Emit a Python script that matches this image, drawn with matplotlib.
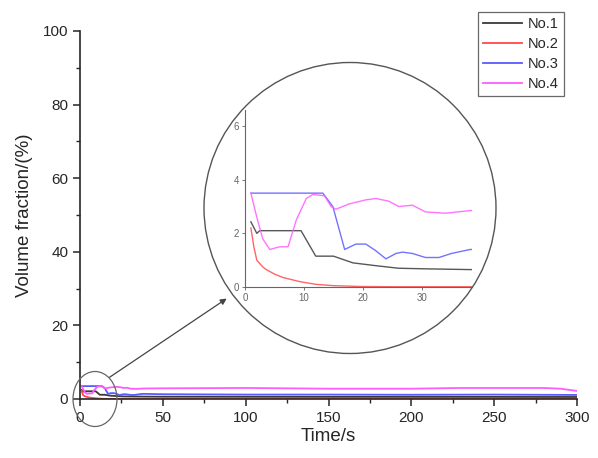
import matplotlib
matplotlib.use("Agg")
import matplotlib.pyplot as plt
from matplotlib.patches import Ellipse, FancyArrowPatch

plt.rcParams["font.family"] = ["Liberation Sans", "DejaVu Sans"]

# --- data ---
t1 = [1, 2, 2.5, 9.5, 12, 15, 18.3, 22, 26, 30, 38, 50, 100, 150, 200, 250, 300]
no1 = [2.43, 2.0, 2.1, 2.1, 1.15, 1.15, 0.9, 0.8, 0.7, 0.68, 0.65, 0.62, 0.6, 0.58, 0.58, 0.57, 0.55]

t2 = [1, 1.5, 2, 3, 3.6, 5, 6.5, 9.3, 12, 15, 19.4, 25, 50, 100, 150, 200, 250, 300]
no2 = [2.2, 1.5, 1.0, 0.75, 0.65, 0.48, 0.35, 0.2, 0.1, 0.05, 0.02, 0.01, 0.01, 0.01, 0.01, 0.01, 0.01, 0.01]

t3 = [1, 13.2, 14.9, 16.9, 18.8, 20.5, 22.2, 23.9, 25.6, 26.7, 28.4, 30.6, 32.9, 35, 38.2,
      50, 100, 150, 200, 250, 300]
no3 = [3.5, 3.5, 3.0, 1.4, 1.6, 1.6, 1.35, 1.05, 1.25, 1.3, 1.25, 1.1, 1.1, 1.25, 1.4,
       1.3, 1.2, 1.2, 1.15, 1.2, 1.1]

t4 = [1, 2, 3, 4.2, 5.9, 7.3, 8.7, 10.4, 11.5, 13.5, 14.6, 15.4, 17.7, 20.5, 22.2, 24.4,
      26.1, 28.4, 30.6, 34, 38.2, 50, 100, 150, 200, 230, 250, 280, 290, 300]
no4 = [3.5, 2.6, 1.8, 1.4, 1.5, 1.5, 2.5, 3.3, 3.45, 3.4, 3.0, 2.9, 3.1, 3.25, 3.3, 3.2,
       3.0, 3.05, 2.8, 2.75, 2.85, 2.9, 3.0, 2.8, 2.8, 3.0, 3.0, 3.0, 2.8, 2.2]

SERIES = [
    ("No.1", t1, no1, "#3a3a3a"),
    ("No.2", t2, no2, "#ff4a4a"),
    ("No.3", t3, no3, "#5a5aff"),
    ("No.4", t4, no4, "#ff5cff"),
]

W, H = 598, 458
TXT = "#262626"


def fx(px):
    return px / W


def fy(py):
    return 1 - py / H


fig = plt.figure(figsize=(W / 100, H / 100), dpi=100)

# main axes
ax = fig.add_axes([fx(80), fy(399), fx(577) - fx(80), fy(31) - fy(399)])
for name, t, v, c in SERIES:
    ax.plot(t, v, color=c, lw=1.3, label=name)
ax.set_xlim(0, 300)
ax.set_ylim(0, 100)
ax.set_xticks(range(0, 301, 50))
ax.set_xticks(range(25, 300, 50), minor=True)
ax.set_yticks(range(0, 101, 20))
ax.set_yticks(range(10, 100, 20), minor=True)
for s in ("top", "right"):
    ax.spines[s].set_visible(False)
for s in ("left", "bottom"):
    ax.spines[s].set_color(TXT)
    ax.spines[s].set_linewidth(1.2)
ax.tick_params(which="major", length=5, width=1.1, colors=TXT, labelsize=11, labelcolor=TXT)
ax.tick_params(which="minor", length=3, width=1.0, colors=TXT)
ax.set_xlabel("Time/s", fontsize=13.5, color=TXT, labelpad=2)
ax.set_ylabel("Volume fraction/(%)", fontsize=13.5, color=TXT, labelpad=7)

leg = ax.legend(loc="upper right", bbox_to_anchor=(fx(564), fy(12)), bbox_transform=fig.transFigure,
                fontsize=10.5, frameon=True, fancybox=False, handlelength=2.7,
                handletextpad=0.4, borderpad=0.35, labelspacing=0.4, borderaxespad=0)
leg.get_frame().set_edgecolor("#444444")
leg.get_frame().set_linewidth(0.9)
for txt in leg.get_texts():
    txt.set_color(TXT)

# magnifier circles
big = Ellipse((fx(350), fy(208)), 292 / W, 291 / H, transform=fig.transFigure,
              fill=False, edgecolor="#555555", lw=1.0, zorder=5)
small = Ellipse((fx(95), fy(399)), 44 / W, 55 / H, transform=fig.transFigure,
                fill=False, edgecolor="#666666", lw=0.9, zorder=5)
fig.patches.extend([big, small])
fig.patches.append(FancyArrowPatch(
    (fx(107), fy(379)), (fx(229), fy(297)), transform=fig.transFigure,
    arrowstyle="-|>", mutation_scale=9, color="#444444", lw=0.9))

# inset axes
ins = fig.add_axes([fx(245), fy(287), fx(472) - fx(245), fy(110) - fy(287)])
ins.patch.set_alpha(0)
for name, t, v, c in SERIES:
    ins.plot(t, v, color=c, lw=1.0, alpha=0.85)
ins.set_xlim(0, 38.5)
ins.set_ylim(0, 6.6)
ins.set_xticks([0, 10, 20, 30])
ins.set_yticks([0, 2, 4, 6])
for s in ("top", "right"):
    ins.spines[s].set_visible(False)
for s in ("left", "bottom"):
    ins.spines[s].set_color("#666666")
    ins.spines[s].set_linewidth(0.8)
ins.tick_params(length=2.5, width=0.7, colors="#777777", labelsize=7, labelcolor="#666666", pad=2)

fig.savefig("out.png", dpi=100)
